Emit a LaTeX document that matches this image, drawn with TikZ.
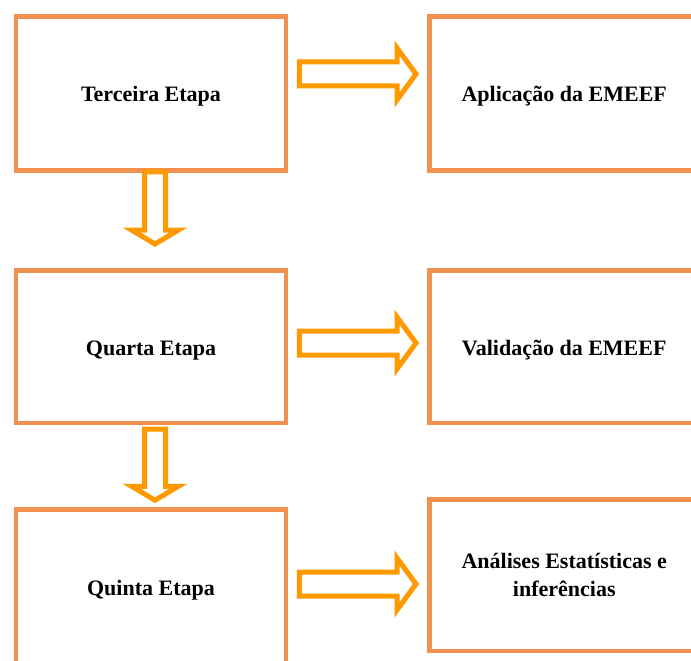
\documentclass[tikz,border=0pt]{standalone}
\usepackage{fontspec}
\setmainfont{Liberation Serif}
\usetikzlibrary{calc}

\definecolor{caixalaranja}{RGB}{241,145,80}
\definecolor{setalaranja}{RGB}{255,153,0}

\tikzset{
    etapa/.style = {draw = caixalaranja, line width = 4.5pt, fill = white,
        minimum width = 270pt, minimum height = 154pt, align = center,
        font = \fontsize{22}{28}\selectfont\bfseries},
    umalinha/.style = {text height = 22pt, text depth = 5pt},
    seta/.style = {draw = setalaranja, line width = 5pt, fill = white, line join = miter}
}

% seta para a direita: #1 cauda, #2 ponta
\newcommand{\setadir}[2]{%
    \draw[seta] ($(#1) + (0, -12)$) -- ($(#2) + (-19, -12)$) -- ($(#2) + (-19, -26)$) -- (#2)
        -- ($(#2) + (-19, 26)$) -- ($(#2) + (-19, 12)$) -- ($(#1) + (0, 12)$) -- cycle;}
% seta para baixo: #1 cauda, #2 ponta
\newcommand{\setabaixo}[2]{%
    \draw[seta] ($(#1) + (-10.5, 0)$) -- ($(#2) + (-10.5, -14)$) -- ($(#2) + (-23.5, -14)$) -- (#2)
        -- ($(#2) + (23.5, -14)$) -- ($(#2) + (10.5, -14)$) -- ($(#1) + (10.5, 0)$) -- cycle;}

\begin{document}
\begin{tikzpicture}[x = 1pt, y = -1pt]
            \useasboundingbox (0, 0) rectangle (691, 661);
            
            % coluna da esquerda
            \node[etapa, umalinha] (terceira) at (151, 93.5) {Terceira Etapa};
            \node[etapa, umalinha, minimum height = 152.5pt] (quarta) at (151, 346.5) {Quarta Etapa};
            \node[etapa, umalinha] (quinta) at (151, 586.5) {Quinta Etapa};
            
            % coluna da direita
            \node[etapa, umalinha] (aplicacao) at (564.25, 93.5) {Aplicação da EMEEF};
            \node[etapa, umalinha, minimum height = 152.5pt] (validacao) at (564.25, 346.5) {Validação da EMEEF};
            \node[etapa, minimum height = 151.5pt] (analises) at (564.25, 575) {Análises Estatísticas e\\inferências};
            
            % setas horizontais
            \coordinate (h1a) at ($(terceira.east |- 0, 74) + (11, 0)$);
            \coordinate (h1b) at ($(aplicacao.west |- 0, 74) + (-11, 0)$);
            \coordinate (h2a) at ($(quarta.east |- 0, 343) + (11, 0)$);
            \coordinate (h2b) at ($(validacao.west |- 0, 343) + (-11, 0)$);
            \coordinate (h3a) at ($(quinta.east |- 0, 584) + (11, 0)$);
            \coordinate (h3b) at ($(analises.west |- 0, 584) + (-11, 0)$);
            \setadir{h1a}{h1b}
            \setadir{h2a}{h2b}
            \setadir{h3a}{h3b}
            
            % setas verticais
            \coordinate (v1a) at ($(terceira.south) + (4, -1)$);
            \coordinate (v1b) at ($(quarta.north) + (4, -24)$);
            \coordinate (v2a) at ($(quarta.south) + (4, 4)$);
            \coordinate (v2b) at ($(quinta.north) + (4, -7)$);
            \setabaixo{v1a}{v1b}
            \setabaixo{v2a}{v2b}
            
        \end{tikzpicture}
\end{document}
